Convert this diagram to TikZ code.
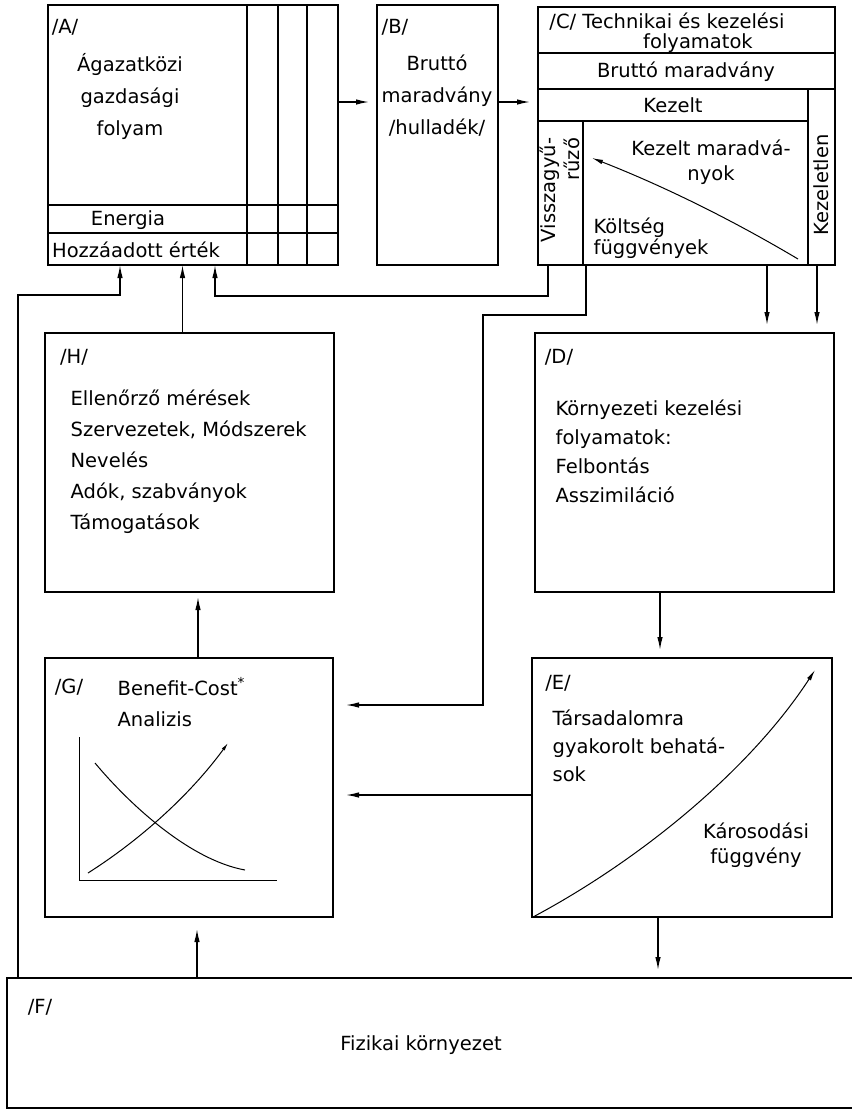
\documentclass[tikz,border=0pt]{standalone}
\usepackage{fontspec}
\setmainfont{DejaVu Sans}
\usetikzlibrary{positioning,arrows.meta}
\tikzstyle{block} = [rectangle, draw=black, inner sep=0pt, outer sep=0pt, anchor=north west]
\tikzstyle{lbl} = [inner sep=0pt, font=\fontsize{19.5}{31}\selectfont]
\tikzstyle{connect} = [-{Latex[length=13pt,width=5.5pt]}]
\tikzstyle{gap} = [shorten >=8pt]
\tikzstyle{curve} = [line width=1pt]

\begin{document}
\begin{tikzpicture}[x=1pt,y=-1pt,line width=1.3pt]
			\useasboundingbox (0,0) rectangle (852,1112);
			\node (A) [block, minimum width=290pt, minimum height=260pt] at (48,5) {};
			\node (B) [block, minimum width=121pt, minimum height=260pt] at (377,5) {};
			\node (C) [block, minimum width=297pt, minimum height=258pt] at (538,7) {};
			\node (H) [block, minimum width=289pt, minimum height=259pt] at (45,333) {};
			\node (D) [block, minimum width=299pt, minimum height=259pt] at (535,333) {};
			\node (G) [block, minimum width=288pt, minimum height=259pt] at (45,658) {};
			\node (E) [block, minimum width=300pt, minimum height=259pt] at (532,658) {};
			\node (F) [block, minimum width=853pt, minimum height=130pt] at (7,978) {};
			%-----------------------------------------------
			\foreach \dx in {199,230,259}
				\draw ([xshift=\dx pt]A.north west) -- ([xshift=\dx pt]A.south west);
			\foreach \dy in {200,228}
				\draw ([yshift=-\dy pt]A.north west) -- ([yshift=-\dy pt]A.north east);
			\foreach \dy in {46,82}
				\draw ([yshift=-\dy pt]C.north west) -- ([yshift=-\dy pt]C.north east);
			\draw ([yshift=-114pt]C.north west) -- ++(270,0);
			\draw ([xshift=-27pt,yshift=-82pt]C.north east) -- ([xshift=-27pt]C.south east);
			\draw ([xshift=45pt,yshift=-114pt]C.north west) -- ([xshift=45pt]C.south west);
			%-----------------------------------------------
			\node (Atag) [lbl] at (65,27) {/A/};
			\node (Aname) [lbl, align=center, font=\fontsize{19.5}{32}\selectfont] at (130,96) {Ágazatközi\\gazdasági\\folyam};
			\node (energy) [lbl] at (128,220) {Energia};
			\node (added) [lbl] at (136,250) {Hozzáadott érték};
			\node (Btag) [lbl] at (395,27) {/B/};
			\node (Bname) [lbl, align=center, font=\fontsize{19.5}{32}\selectfont] at (437,96) {Bruttó\\maradvány\\/hulladék/};
			\node (Ctitle) [lbl] at (667,22) {/C/ Technikai és kezelési};
			\node (Ctitle2) [lbl] at (698,43) {folyamatok};
			\node (gross) [lbl] at (686,72) {Bruttó maradvány};
			\node (treated) [lbl] at (673,105) {Kezelt};
			\node (recyc) [lbl, rotate=90, align=right, font=\fontsize{19.5}{24}\selectfont] at (560,190) {Visszagyű-\\rűző};
			\node (untreated) [lbl, rotate=90] at (821,185) {Kezeletlen};
			\node (resid) [lbl, align=center, font=\fontsize{19.5}{25}\selectfont] at (711,162) {Kezelt maradvá-\\nyok};
			\node (costf) [lbl, align=left, anchor=west, font=\fontsize{19.5}{21}\selectfont] at (593,238) {Költség\\függvények};
			\node (Dtag) [lbl] at (559,357) {/D/};
			\node (Dtext) [lbl, align=left, anchor=west, font=\fontsize{19.5}{29}\selectfont] at (555,451) {Környezeti kezelési\\folyamatok:\\Felbontás\\Asszimiláció};
			\node (Htag) [lbl] at (74,357) {/H/};
			\node (Htext) [lbl, align=left, anchor=west] at (70,462) {Ellenőrző mérések\\Szervezetek, Módszerek\\Nevelés\\Adók, szabványok\\Támogatások};
			\node (Gtag) [lbl] at (69,687) {/G/};
			\node (Gtext) [lbl, align=left, anchor=west] at (117,702) {Benefit-Cost\textsuperscript{*}\\Analizis};
			\node (Etag) [lbl] at (558,683) {/E/};
			\node (Etext) [lbl, align=left, anchor=west, font=\fontsize{19.5}{28}\selectfont] at (552,746) {Társadalomra\\gyakorolt behatá-\\sok};
			\node (damage) [lbl, align=center, font=\fontsize{19.5}{25}\selectfont] at (756,845) {Károsodási\\függvény};
			\node (Ftag) [lbl] at (40,1007) {/F/};
			\node (Fname) [lbl] at (421,1045) {Fizikai környezet};
			%-----------------------------------------------
			\draw[curve, -{Latex[length=11pt,width=4.5pt]}] (798,259) .. controls (729,218) and (661,185) .. (592,158);
			\draw[curve, -{Latex[length=11pt,width=4.5pt]}] (533,917) .. controls (640,860) and (750,770) .. (815,670);
			\draw[curve] (79,737) -- (79,880) -- (277,880);
			\draw[curve, -{Latex[length=8pt,width=3.5pt]}] (88,873) .. controls (140,840) and (190,795) .. (228,743);
			\draw[curve] (95,763) .. controls (130,805) and (190,860) .. (245,870);
			%-----------------------------------------------
			\coordinate (tF) at ([xshift=11pt]F.north west);
			\coordinate (tA1) at ([xshift=72pt]A.south west);
			\coordinate (tA3) at ([xshift=167pt]A.south west);
			\coordinate (tH) at ([xshift=-7pt]H.north);
			\coordinate (tC1) at ([xshift=10pt]C.south west);
			\coordinate (tC2) at ([xshift=48pt]C.south west);
			\coordinate (tC3) at ([xshift=229pt]C.south west);
			\coordinate (tC4) at ([xshift=-18pt]C.south east);
			\coordinate (tD) at ([xshift=125pt]D.south west);
			\coordinate (tE1) at ([yshift=-137pt]E.north west);
			\coordinate (tE2) at ([xshift=126pt]E.south west);
			\coordinate (tG1) at ([xshift=152pt]G.south west);
			\coordinate (tG2) at ([xshift=153pt]G.north west);
			\coordinate (tG3) at ([yshift=-47pt]G.north east);
			%-----------------------------------------------
			\draw [connect, gap] ([yshift=-97pt]A.north east) -- ([yshift=-97pt]B.north west);
			\draw [connect, gap] ([yshift=-97pt]B.north east) -- ([yshift=-95pt]C.north west);
			\draw [connect] (tF) |- ([yshift=-30pt]tA1) -- (tA1);
			\draw [connect] (tH) -- (tH |- A.south);
			\draw [connect] (tC1) -- ++(0,31) -| (tA3);
			\draw [connect, gap, shorten >=13pt] (tC2) -- ++(0,50) -- ++(-103,0) |- (tG3);
			\draw [connect, gap] (tC3) -- (tC3 |- D.north);
			\draw [connect, gap] (tC4) -- (tC4 |- D.north);
			\draw [connect, gap] (tD) -- (tD |- E.north);
			\draw [connect, gap, shorten >=13pt] (tE1) -- (tE1 -| G.east);
			\draw [connect, gap] (tE2) -- (tE2 |- F.north);
			\draw [connect, gap, shorten >=12pt] (tG1 |- F.north) -- (tG1);
			\draw [connect, gap, shorten >=5pt] (tG2) -- (tG2 |- H.south);
			\end{tikzpicture}
\end{document}
